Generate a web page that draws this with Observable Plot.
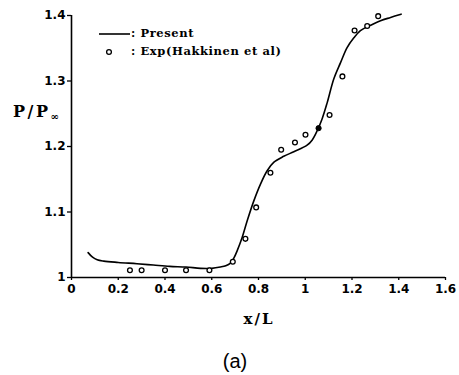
<!DOCTYPE html>
<html>
<head>
<meta charset="utf-8">
<script src="https://cdn.jsdelivr.net/npm/d3@7"></script>
<script src="https://cdn.jsdelivr.net/npm/@observablehq/plot@0.6"></script>
<style>
  html, body { margin: 0; padding: 0; background: #fff; }
  #wrap { position: relative; width: 459px; height: 375px; overflow: hidden; }
  .ann { position: absolute; color: #000; white-space: pre; line-height: 1; }
  #ylab { left: 13px; top: 104px; font-family: "DejaVu Serif", serif; font-weight: bold; font-size: 16px; letter-spacing: 2.5px; }
  #ylab sub { font-size: 10px; vertical-align: -3px; letter-spacing: 0; }
  #xlab { left: 0; width: 518px; text-align: center; top: 312px; font-family: "DejaVu Serif", serif; font-weight: bold; font-size: 15px; letter-spacing: 2px; }
  #cap { left: 0; width: 470px; text-align: center; top: 351px; font-family: "Liberation Sans", Arial, sans-serif; font-size: 20px; }
  .leg { font-family: "DejaVu Serif", serif; font-weight: bold; font-size: 11.5px; letter-spacing: 0.6px; }
</style>
</head>
<body>
<div id="wrap"></div>
<script>
// Tick values and labels
const xTicks = [0, 0.2, 0.4, 0.6, 0.8, 1.0, 1.2, 1.4, 1.6];
const xTickLabels = ["0", "0.2", "0.4", "0.6", "0.8", "1", "1.2", "1.4", "1.6"];
const yTicks = [1.0, 1.1, 1.2, 1.3, 1.4];
const yTickLabels = ["1", "1.1", "1.2", "1.3", "1.4"];

// Present (computed) curve
const presentX = [0.071, 0.09, 0.11, 0.138, 0.2, 0.28, 0.35, 0.42, 0.49, 0.552, 0.6, 0.637, 0.66, 0.68, 0.695, 0.709, 0.73, 0.752, 0.78, 0.809, 0.837, 0.866, 0.908, 0.951, 1.008, 1.03, 1.051, 1.072, 1.094, 1.122, 1.151, 1.179, 1.208, 1.236, 1.279, 1.322, 1.365, 1.41];
const presentY = [1.038, 1.031, 1.027, 1.025, 1.023, 1.021, 1.019, 1.017, 1.016, 1.014, 1.014, 1.016, 1.018, 1.022, 1.030, 1.041, 1.061, 1.087, 1.117, 1.143, 1.163, 1.176, 1.185, 1.192, 1.202, 1.210, 1.224, 1.242, 1.267, 1.303, 1.328, 1.351, 1.366, 1.377, 1.385, 1.392, 1.397, 1.402];

// Experiment (Hakkinen et al) – open circles
const expX = [0.25, 0.30, 0.40, 0.49, 0.59, 0.69, 0.744, 0.79, 0.851, 0.897, 0.956, 1.001, 1.104, 1.159, 1.211, 1.265, 1.312];
const expY = [1.011, 1.011, 1.011, 1.011, 1.011, 1.024, 1.059, 1.107, 1.160, 1.195, 1.206, 1.218, 1.248, 1.307, 1.377, 1.384, 1.399];
// Experiment point drawn filled (overlapping the curve)
const expFilledX = [1.057];
const expFilledY = [1.228];

const present = presentX.map((x, i) => ({x, y: presentY[i]}));
const exp = expX.map((x, i) => ({x, y: expY[i]}));
const expFilled = expFilledX.map((x, i) => ({x, y: expFilledY[i]}));

const tickFont = {fontFamily: "DejaVu Sans", fontWeight: "bold", fontSize: 12};

const chart = Plot.plot({
  width: 459,
  height: 335,
  marginLeft: 71,
  marginRight: 14,
  marginTop: 15,
  marginBottom: 58,
  style: {background: "#fff", color: "#000", overflow: "visible"},
  x: {domain: [0, 1.6]},
  y: {domain: [1.0, 1.4]},
  marks: [
    Plot.axisX({ticks: xTicks, tickSize: 3, tickPadding: 4, tickFormat: (d, i) => xTickLabels[i], label: null, strokeWidth: 1.3, ...tickFont}),
    Plot.axisY({ticks: yTicks, tickSize: 4, tickPadding: 2, tickFormat: (d, i) => yTickLabels[i], label: null, strokeWidth: 1.3, ...tickFont}),
    Plot.ruleX([0], {strokeWidth: 1.6}),
    Plot.ruleY([1.0], {strokeWidth: 1.6}),
    Plot.line(present, {x: "x", y: "y", curve: "catmull-rom", stroke: "#000", strokeWidth: 1.6}),
    Plot.dot(exp, {x: "x", y: "y", r: 2.4, stroke: "#000", fill: "#fff", strokeWidth: 1.3}),
    Plot.dot(expFilled, {x: "x", y: "y", r: 2.6, stroke: "#000", fill: "#000", strokeWidth: 1})
  ]
});

const wrap = document.getElementById("wrap");
wrap.appendChild(chart);

function addDiv(id, cls, html, style) {
  const d = document.createElement("div");
  if (id) d.id = id;
  d.className = "ann " + (cls || "");
  d.innerHTML = html;
  if (style) Object.assign(d.style, style);
  wrap.appendChild(d);
  return d;
}

addDiv("ylab", "", "P/P<sub>∞</sub>");
addDiv("xlab", "", "x/L");
addDiv("cap", "", "(a)");

// Legend
const legSvg = document.createElementNS("http://www.w3.org/2000/svg", "svg");
legSvg.setAttribute("width", "40");
legSvg.setAttribute("height", "30");
Object.assign(legSvg.style, {position: "absolute", left: "95px", top: "26px"});
legSvg.innerHTML = '<line x1="4" x2="35" y1="8" y2="8" stroke="#000" stroke-width="1.6"/>' +
  '<circle cx="14" cy="26" r="2.4" fill="#fff" stroke="#000" stroke-width="1.3"/>';
wrap.appendChild(legSvg);
addDiv(null, "leg", ": Present", {left: "131px", top: "28px"});
addDiv(null, "leg", ": Exp(Hakkinen et al)", {left: "131px", top: "46px"});
</script>
</body>
</html>
